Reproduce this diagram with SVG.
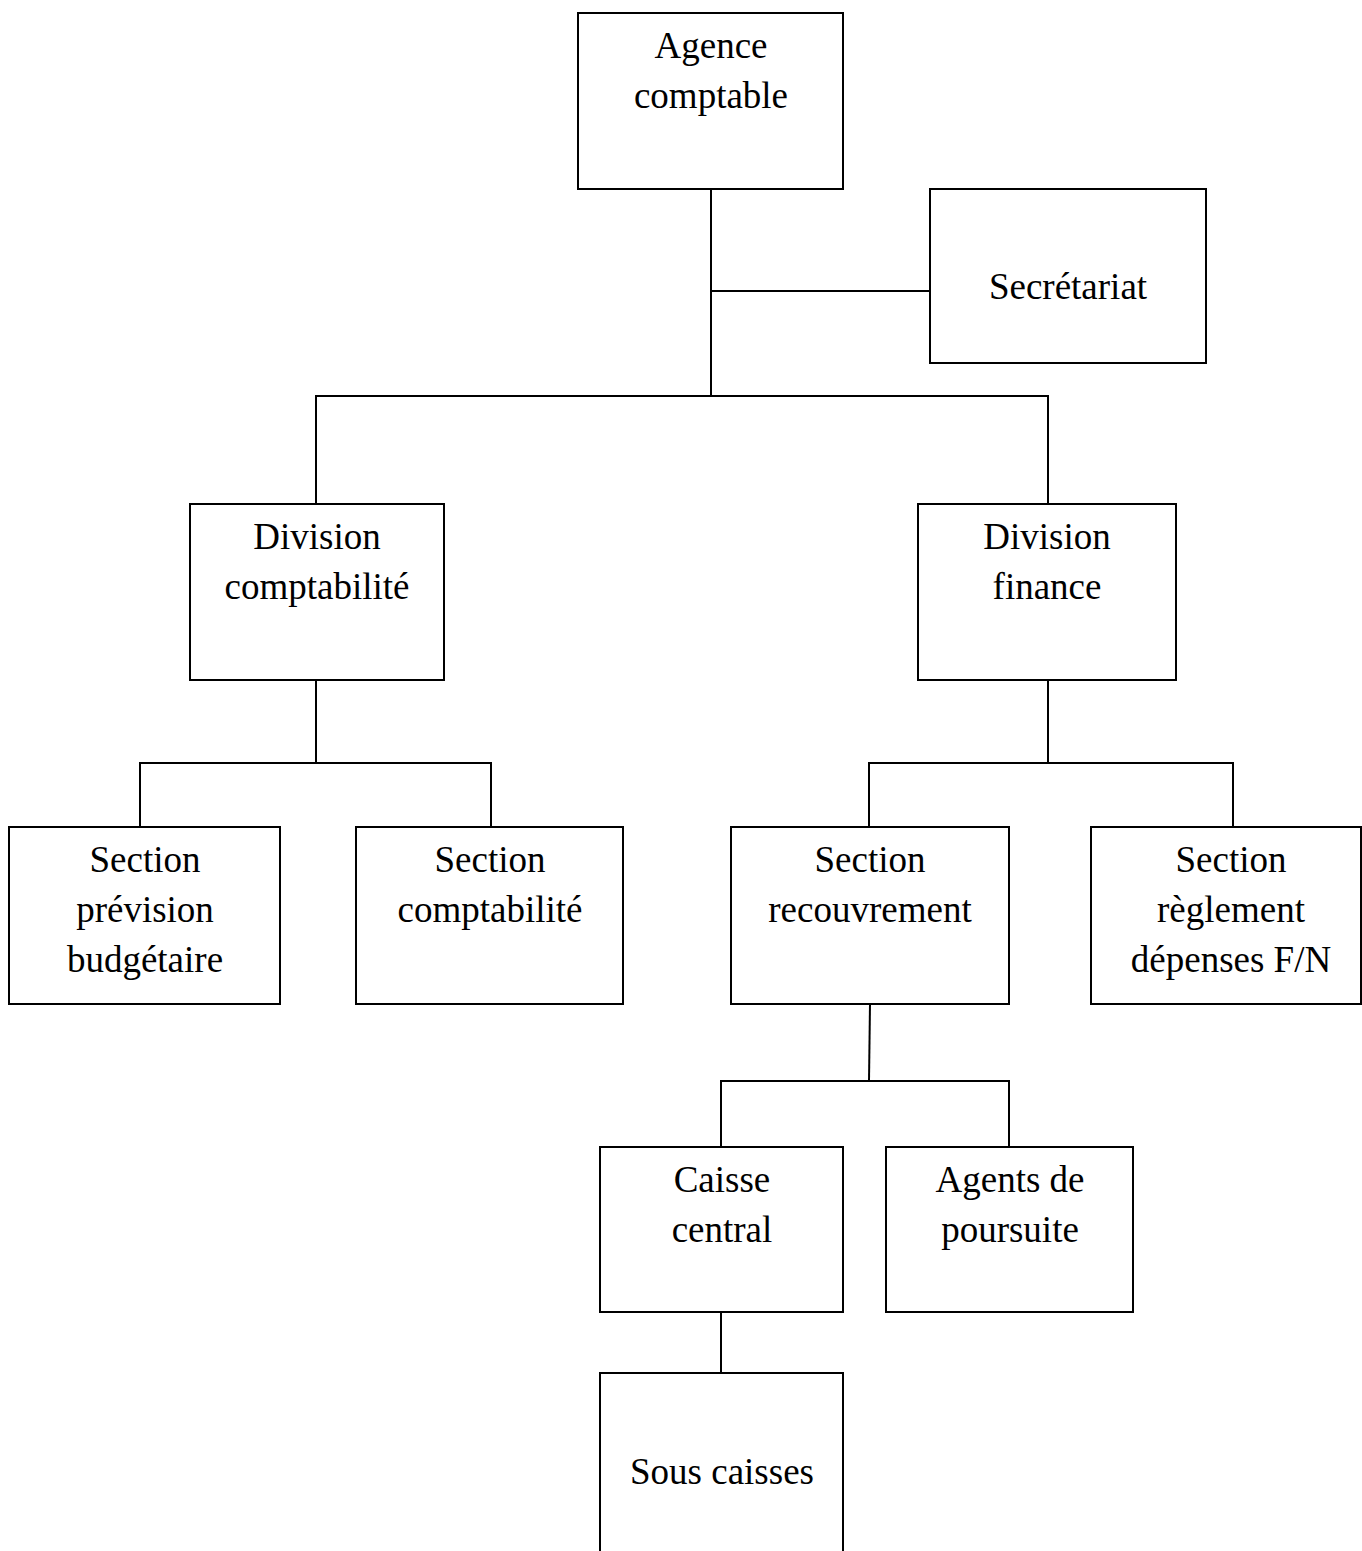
<svg xmlns="http://www.w3.org/2000/svg" width="1362" height="1551" viewBox="0 0 1362 1551">
<style>
.box{fill:#fff;stroke:#000;stroke-width:2}
line{stroke:#000;stroke-width:2}
text{font-family:"Liberation Serif","Times New Roman",serif;font-size:37px;fill:#000;text-anchor:middle}
</style>
<rect width="1362" height="1551" style="fill:#fff;stroke:none"/>
<g id="connectors">
<line x1="711" y1="189" x2="711" y2="397"/>
<line x1="711" y1="291" x2="930" y2="291"/>
<line x1="315" y1="396" x2="1049" y2="396"/>
<line x1="316" y1="395" x2="316" y2="504"/>
<line x1="1048" y1="395" x2="1048" y2="504"/>
<line x1="316" y1="680" x2="316" y2="763"/>
<line x1="139" y1="763" x2="492" y2="763"/>
<line x1="140" y1="762" x2="140" y2="827"/>
<line x1="491" y1="762" x2="491" y2="827"/>
<line x1="1048" y1="680" x2="1048" y2="763"/>
<line x1="868" y1="763" x2="1234" y2="763"/>
<line x1="869" y1="762" x2="869" y2="827"/>
<line x1="1233" y1="762" x2="1233" y2="827"/>
<line x1="870" y1="1004" x2="869" y2="1081"/>
<line x1="720" y1="1081" x2="1010" y2="1081"/>
<line x1="721" y1="1080" x2="721" y2="1147"/>
<line x1="1009" y1="1080" x2="1009" y2="1147"/>
<line x1="721" y1="1312" x2="721" y2="1373"/>
</g>
<g id="agence"><rect class="box" x="578" y="13" width="265" height="176"/><text x="711" y="58">Agence</text><text x="711" y="108">comptable</text></g>
<g id="secretariat"><rect class="box" x="930" y="189" width="276" height="174"/><text x="1068" y="299">Secrétariat</text></g>
<g id="div-compta"><rect class="box" x="190" y="504" width="254" height="176"/><text x="317" y="549">Division</text><text x="317" y="599">comptabilité</text></g>
<g id="div-finance"><rect class="box" x="918" y="504" width="258" height="176"/><text x="1047" y="549">Division</text><text x="1047" y="599">finance</text></g>
<g id="sec-prevision"><rect class="box" x="9" y="827" width="271" height="177"/><text x="145" y="872">Section</text><text x="145" y="922">prévision</text><text x="145" y="972">budgétaire</text></g>
<g id="sec-compta"><rect class="box" x="356" y="827" width="267" height="177"/><text x="490" y="872">Section</text><text x="490" y="922">comptabilité</text></g>
<g id="sec-recouvrement"><rect class="box" x="731" y="827" width="278" height="177"/><text x="870" y="872">Section</text><text x="870" y="922">recouvrement</text></g>
<g id="sec-reglement"><rect class="box" x="1091" y="827" width="270" height="177"/><text x="1231" y="872">Section</text><text x="1231" y="922">règlement</text><text x="1231" y="972">dépenses F/N</text></g>
<g id="caisse-central"><rect class="box" x="600" y="1147" width="243" height="165"/><text x="722" y="1192">Caisse</text><text x="722" y="1242">central</text></g>
<g id="agents"><rect class="box" x="886" y="1147" width="247" height="165"/><text x="1010" y="1192">Agents de</text><text x="1010" y="1242">poursuite</text></g>
<g id="sous-caisses"><rect class="box" x="600" y="1373" width="243" height="190"/><text x="722" y="1484">Sous caisses</text></g>
</svg>
